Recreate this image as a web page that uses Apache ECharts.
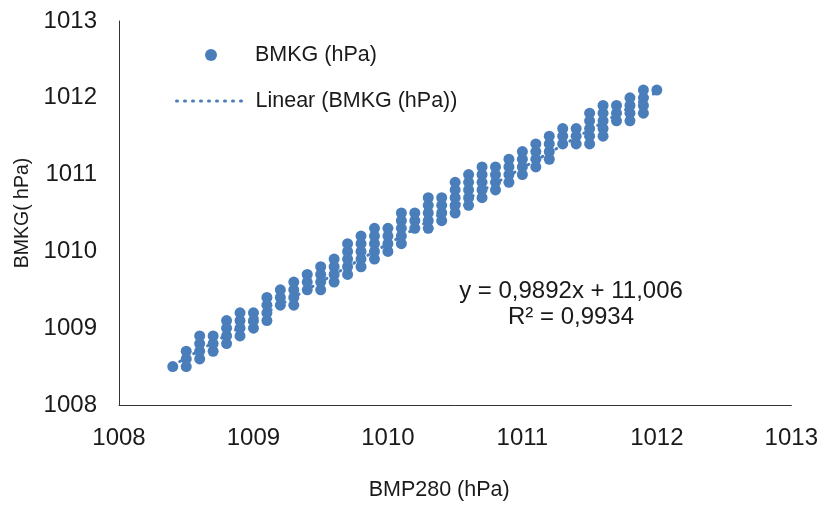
<!DOCTYPE html>
<html>
<head>
<meta charset="utf-8">
<script src="https://cdn.jsdelivr.net/npm/echarts@6/dist/echarts.min.js"></script>
<style>html,body{margin:0;padding:0;background:#fff;}#c{width:821px;height:506px;}</style>
</head>
<body>
<div id="c"></div>
<script>
// BMP280 readings (x), one column per reading
var bmpColumns = [1008.4,1008.5,1008.6,1008.7,1008.8,1008.9,1009.0,1009.1,1009.2,1009.3,
  1009.4,1009.5,1009.6,1009.7,1009.8,1009.9,1010.0,1010.1,1010.2,1010.3,
  1010.4,1010.5,1010.6,1010.7,1010.8,1010.9,1011.0,1011.1,1011.2,1011.3,
  1011.4,1011.5,1011.6,1011.7,1011.8,1011.9,1012.0];
// BMKG readings (y) observed for each BMP280 column
var bmkgColumns = [
  [1008.5],
  [1008.5,1008.6,1008.7],
  [1008.6,1008.7,1008.8,1008.9],
  [1008.7,1008.8,1008.9],
  [1008.8,1008.9,1009.0,1009.1],
  [1008.9,1009.0,1009.1,1009.2],
  [1009.0,1009.1,1009.2],
  [1009.1,1009.2,1009.3,1009.4],
  [1009.3,1009.4,1009.5],
  [1009.3,1009.4,1009.5,1009.6],
  [1009.5,1009.6,1009.7],
  [1009.5,1009.6,1009.7,1009.8],
  [1009.6,1009.7,1009.8,1009.9],
  [1009.7,1009.8,1009.9,1010.0,1010.1],
  [1009.8,1009.9,1010.0,1010.1,1010.2],
  [1009.9,1010.0,1010.1,1010.2,1010.3],
  [1010.0,1010.1,1010.2,1010.3],
  [1010.1,1010.2,1010.3,1010.4,1010.5],
  [1010.3,1010.4,1010.5],
  [1010.3,1010.4,1010.5,1010.6,1010.7],
  [1010.4,1010.5,1010.6,1010.7],
  [1010.5,1010.6,1010.7,1010.8,1010.9],
  [1010.6,1010.7,1010.8,1010.9,1011.0],
  [1010.7,1010.8,1010.9,1011.0,1011.1],
  [1010.8,1010.9,1011.0,1011.1],
  [1010.9,1011.0,1011.1,1011.2],
  [1011.0,1011.1,1011.2,1011.3],
  [1011.1,1011.2,1011.3,1011.4],
  [1011.2,1011.3,1011.4,1011.5],
  [1011.4,1011.5,1011.6],
  [1011.4,1011.5,1011.6],
  [1011.4,1011.5,1011.6,1011.7,1011.8],
  [1011.5,1011.6,1011.7,1011.8,1011.9],
  [1011.7,1011.8,1011.9],
  [1011.7,1011.8,1011.9,1012.0],
  [1011.8,1011.9,1012.0,1012.1],
  [1012.1]
];
var trendSlope = 0.9892;
var trendIntercept = 11.006;
var equationLines = ['y = 0,9892x + 11,006', 'R² = 0,9934'];
var xTicks = [1008, 1009, 1010, 1011, 1012, 1013];
var yTicks = [1008, 1009, 1010, 1011, 1012, 1013];

var points = [];
bmpColumns.forEach(function (x, i) {
  bmkgColumns[i].forEach(function (y) { points.push([x, y]); });
});
var xMin = Math.min.apply(null, bmpColumns), xMax = Math.max.apply(null, bmpColumns);
var trend = [[xMin, trendSlope * xMin + trendIntercept], [xMax, trendSlope * xMax + trendIntercept]];

var blue = '#4a7ebb';
var font = 'Liberation Sans';
var txt = '#1a1a1a';
function plain(v) { return String(Math.round(v)); }
var chart = echarts.init(document.getElementById('c'), null, {renderer: 'canvas'});
chart.setOption({
  animation: false,
  backgroundColor: '#fff',
  grid: {left: 119, right: 27, top: 21, bottom: 97, containLabel: false},
  xAxis: {
    type: 'value', min: xTicks[0], max: xTicks[xTicks.length - 1], interval: 1,
    name: 'BMP280 (hPa)', nameLocation: 'middle', nameGap: 74,
    nameTextStyle: {fontFamily: font, fontSize: 21.5, color: txt, padding: [0, 32, 0, 0]},
    axisLine: {show: true, lineStyle: {color: '#333', width: 1}},
    axisTick: {show: false}, splitLine: {show: false},
    axisLabel: {fontFamily: font, fontSize: 24, color: txt, margin: 21, formatter: plain}
  },
  yAxis: {
    type: 'value', min: yTicks[0], max: yTicks[yTicks.length - 1], interval: 1,
    name: 'BMKG( hPa)', nameLocation: 'middle', nameGap: 86, nameRotate: 90,
    nameTextStyle: {fontFamily: font, fontSize: 19.5, color: txt},
    axisLine: {show: true, lineStyle: {color: '#333', width: 1}},
    axisTick: {show: false}, splitLine: {show: false},
    axisLabel: {fontFamily: font, fontSize: 24, color: txt, margin: 22, formatter: plain}
  },
  legend: [
    {data: ['BMKG (hPa)'], orient: 'vertical', left: 205, top: 44, padding: 0, itemWidth: 12, itemHeight: 12,
     icon: 'circle', textStyle: {fontFamily: font, fontSize: 21.5, color: txt, padding: [0, 0, 0, 33]}},
    {data: ['Linear (BMKG (hPa))'], orient: 'vertical', left: 175, top: 90, padding: 0, itemWidth: 71, itemHeight: 12,
     itemStyle: {opacity: 0},
     lineStyle: {color: blue, width: 3, type: [1, 7], cap: 'round', opacity: 1},
     textStyle: {fontFamily: font, fontSize: 21.5, color: txt, padding: [0, 0, 0, 3]}}
  ],
  graphic: [
    {type: 'text', x: 571, y: 291, style: {text: equationLines[0], fontFamily: font, fontSize: 24, fill: txt, align: 'center', verticalAlign: 'middle'}},
    {type: 'text', x: 571, y: 317, style: {text: equationLines[1], fontFamily: font, fontSize: 24, fill: txt, align: 'center', verticalAlign: 'middle'}}
  ],
  series: [
    {name: 'Linear (BMKG (hPa))', type: 'line', data: trend, symbol: 'none', showSymbol: false, z: 1,
     lineStyle: {color: blue, width: 3, type: [1, 7], cap: 'round'}, itemStyle: {color: blue}},
    {name: 'BMKG (hPa)', type: 'scatter', data: points, symbolSize: 11, z: 2,
     itemStyle: {color: blue, opacity: 1}}
  ]
});
</script>
</body>
</html>
